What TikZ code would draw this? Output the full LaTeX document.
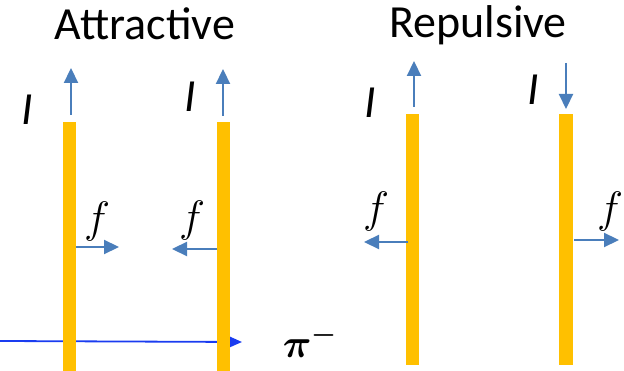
\RequirePackage{fix-cm}
\documentclass[tikz,border=0pt]{standalone}
\usepackage{amsmath}
\usepackage{bm}
\usepackage{fontspec}
\setmainfont{Carlito}
\usetikzlibrary{arrows.meta}
\definecolor{bargold}{HTML}{FFC000}
\definecolor{arrblue}{HTML}{4A7EBB}
\definecolor{pionblue}{HTML}{1A3CF0}
\tikzset{
  wire/.style={fill=bargold, draw=none},
  curarrow/.style={draw=arrblue, line width=2.2pt, -{Triangle[length=15pt,width=14pt]}},
  title/.style={font=\fontsize{46}{50}\selectfont, anchor=base},
  ilabel/.style={font=\fontsize{46}{50}\selectfont\itshape},
  flabel/.style={font=\fontsize{44}{48}\selectfont},
}
\begin{document}
\begin{tikzpicture}[x=1pt,y=-1pt]
\useasboundingbox (0,0) rectangle (624,371);
% titles
\node[title] (tA) at (145,40) {Attractive};
\node[title] (tR) at (478,38) {Repulsive};
% pion line (behind bars)
\coordinate (p0) at (0,341);
\coordinate (p1) at (242,342);
\draw[draw=pionblue, line width=1.8pt, -{Triangle[length=13pt,width=11pt]}] (p0) -- (p1);
\node[font=\fontsize{40}{44}\selectfont] (pi) at (310,341) {$\bm{\pi}^{\bm{-}}$};
% wires
\path[wire] (63,122) rectangle (76,371) coordinate (w1);
\path[wire] (217,122) rectangle (230,371) coordinate (w2);
\path[wire] (406,114) rectangle (419,365) coordinate (w3);
\path[wire] (559,114) rectangle (573,365) coordinate (w4);
% current arrows
\coordinate (i1a) at (71,115); \coordinate (i1b) at (71,68);
\coordinate (i2a) at (223,116); \coordinate (i2b) at (223,69);
\coordinate (i3a) at (414,107); \coordinate (i3b) at (414,61);
\coordinate (i4a) at (566,63); \coordinate (i4b) at (566,109);
\draw[curarrow] (i1a) -- (i1b);
\draw[curarrow] (i2a) -- (i2b);
\draw[curarrow] (i3a) -- (i3b);
\draw[curarrow] (i4a) -- (i4b);
\node[ilabel] (I1) at (27,110) {I};
\node[ilabel] (I2) at (190,97) {I};
\node[ilabel] (I3) at (370,103) {I};
\node[ilabel] (I4) at (533,90) {I};
% force arrows
\coordinate (f1a) at (76,247); \coordinate (f1b) at (119,247);
\coordinate (f2a) at (217,249); \coordinate (f2b) at (172,249);
\coordinate (f3a) at (408,242); \coordinate (f3b) at (364,242);
\coordinate (f4a) at (574,240); \coordinate (f4b) at (619,240);
\draw[curarrow] (f1a) -- (f1b);
\draw[curarrow] (f2a) -- (f2b);
\draw[curarrow] (f3a) -- (f3b);
\draw[curarrow] (f4a) -- (f4b);
\node[flabel] (F1) at (97,222) {$f$};
\node[flabel] (F2) at (192,221) {$f$};
\node[flabel] (F3) at (376,212) {$f$};
\node[flabel] (F4) at (610,212) {$f$};
\end{tikzpicture}
\end{document}
